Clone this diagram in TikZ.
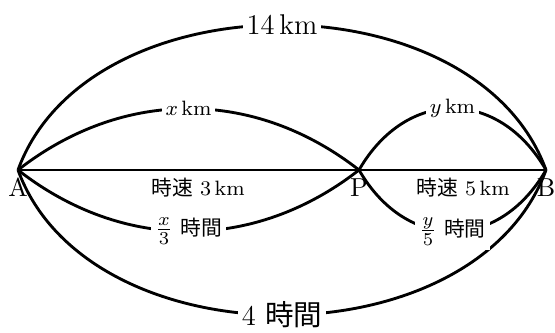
\documentclass[tikz,border=0pt]{standalone}
\usepackage{fontspec}
\newfontfamily\jp{Noto Sans CJK JP}
\newcommand{\myfrac}[2]{{\fontsize{10}{12}\selectfont$\frac{#1}{#2}$}}
\begin{document}
\begin{tikzpicture}[x=0.385pt,y=0.385pt,
  arc/.style={line width=1.1pt},
  lbl/.style={fill=white,inner sep=1.5pt},
  big/.style={font=\fontsize{11}{13}\selectfont},
  small/.style={font=\fontsize{8}{10}\selectfont},
  ptlabel/.style={font=\fontsize{10}{12}\selectfont,inner sep=0pt,anchor=north,yshift=-3pt}]
\useasboundingbox (0,0) rectangle (555,333);
\coordinate (A) at (18,163);
\coordinate (P) at (359,163);
\coordinate (B) at (546,163);
\draw[arc] (A) to[bend left=70] node[lbl,big] (l14) {14\,km} (B);
\draw[arc] (A) to[bend left=38] node[lbl,small] (lx) {$x$\,km} (P);
\draw[arc] (P) to[bend left=60,looseness=1.3] node[lbl,small] (ly) {$y$\,km} (B);
\draw[arc] (A) -- (P) -- (B);
\draw[arc] (A) to[bend right=70] node[lbl,big] (l4) {4 {\jp 時間}} (B);
\draw[arc] (A) to[bend right=38] node[lbl,small] (lx3) {\myfrac{x}{3} {\jp 時間}} (P);
\draw[arc] (P) to[bend right=60,looseness=1.3] node[lbl,small] (ly5) {\myfrac{y}{5} {\jp 時間}} (B);
\node[ptlabel] (la) at (A) {A};
\node[ptlabel] (lp) at (P) {P};
\node[ptlabel] (lb) at (B) {B};
\node[small] (s3) at (198,145) {{\jp 時速} 3\,km};
\node[small] (s5) at (463,145) {{\jp 時速} 5\,km};
\end{tikzpicture}
\end{document}
